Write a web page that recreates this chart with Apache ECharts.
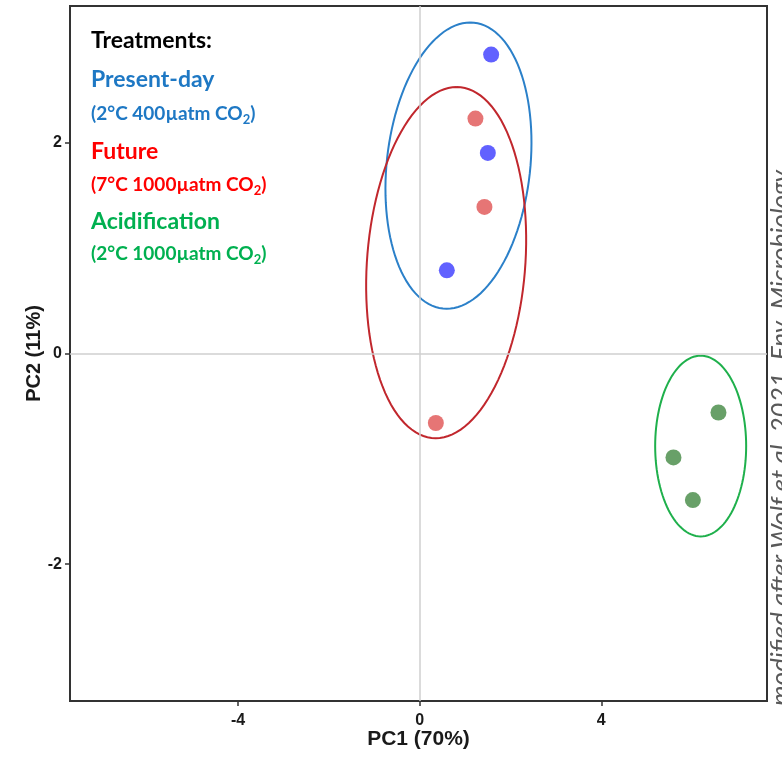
<!DOCTYPE html>
<html>
<head>
<meta charset="utf-8">
<script src="https://cdn.jsdelivr.net/npm/echarts@6/dist/echarts.min.js"></script>
<style>
  html, body { margin: 0; padding: 0; background: #fff; }
  #chart { width: 782px; height: 757px; }
</style>
</head>
<body>
<div id="chart"></div>
<script>
  // PCA scores [PC1, PC2]
  var presentDay = [[1.575, 2.839], [1.502, 1.905], [0.599, 0.790]]
  var future = [[1.229, 2.231], [1.427, 1.392], [0.357, -0.660]]
  var acidification = [[6.581, -0.560], [5.590, -0.987], [6.018, -1.392]]

  // ellipses: [centerX, centerY, aX, aY, bX, bY] (conjugate semi-axes, data units)
  var ellipsePresent = [0.855, 1.784, 0.259, 1.359, 1.587, 0]
  var ellipseFuture = [0.584, 0.863, 0.231, 1.667, 1.747, 0]
  var ellipseAcid = [6.189, -0.879, 0, 0.858, 1.002, 0]

  var xTicks = [-4, 0, 4]
  var yTicks = [-2, 0, 2]

  var chart = echarts.init(document.getElementById('chart'))

  function ellipseSeries(params, color) {
    return {
      type: 'custom',
      silent: true,
      clip: true,
      z: 3,
      data: [params],
      renderItem: function (ctx, api) {
        var p = params
        var pts = []
        for (var i = 0; i <= 120; i++) {
          var t = i / 120 * Math.PI * 2
          pts.push(api.coord([
            p[0] + p[2] * Math.cos(t) + p[4] * Math.sin(t),
            p[1] + p[3] * Math.cos(t) + p[5] * Math.sin(t)
          ]))
        }
        return {
          type: 'polyline',
          shape: { points: pts },
          style: { stroke: color, lineWidth: 2, fill: null }
        }
      }
    }
  }

  function pointSeries(name, data, color) {
    return {
      name: name,
      type: 'scatter',
      symbolSize: 16,
      z: 4,
      itemStyle: { color: color, opacity: 0.62 },
      data: data
    }
  }

  var axisFont = 'Liberation Sans, Arial, sans-serif'
  var legendFont = 'Lato, Noto Sans, sans-serif'

  // legend lines built by hand, like the annotation in the figure
  function headLine(text, color, y) {
    return {
      type: 'text', x: 91, y: y,
      style: { text: text, fill: color, font: 'bold 23px ' + legendFont, verticalAlign: 'middle' }
    }
  }
  function condLine(text, color, y) {
    return {
      type: 'text', x: 91, y: y,
      style: {
        text: text + ' CO{s|2})',
        fill: color,
        fontFamily: legendFont,
        fontWeight: 'bold',
        fontSize: 19,
        verticalAlign: 'middle',
        rich: {
          s: { fontSize: 13, fontWeight: 'bold', fontFamily: legendFont, fill: color, padding: [11, 0, 0, 0] }
        }
      }
    }
  }

  var present = pointSeries('Present-day', presentDay, '#0000ff')
  present.markLine = {
    silent: true,
    symbol: 'none',
    label: { show: false },
    lineStyle: { color: '#cfcfcf', width: 1.5, type: 'solid' },
    data: [{ xAxis: 0 }, { yAxis: 0 }]
  }

  chart.setOption({
    animation: false,
    grid: {
      left: 70,
      right: 15,
      top: 6,
      bottom: 56,
      show: true,
      borderColor: '#333',
      borderWidth: 2
    },
    xAxis: {
      type: 'value',
      min: -7.7,
      max: 7.65,
      name: 'PC1 (70%)',
      nameLocation: 'middle',
      nameGap: 28,
      nameMoveOverlap: false,
      nameTextStyle: { fontFamily: axisFont, fontWeight: 'bold', fontSize: 21, color: '#1a1a1a' },
      axisLine: { onZero: false, lineStyle: { color: '#333', width: 2 } },
      axisTick: { customValues: xTicks, length: 5, lineStyle: { color: '#333', width: 1.5 } },
      axisLabel: { customValues: xTicks, margin: 12, fontFamily: axisFont, fontWeight: 'bold', fontSize: 16, color: '#1a1a1a' },
      splitLine: { show: false }
    },
    yAxis: {
      type: 'value',
      min: -3.3,
      max: 3.3,
      name: 'PC2 (11%)',
      nameLocation: 'middle',
      nameGap: 26,
      nameMoveOverlap: false,
      nameTextStyle: { fontFamily: axisFont, fontWeight: 'bold', fontSize: 20, color: '#1a1a1a' },
      axisLine: { onZero: false, lineStyle: { color: '#333', width: 2 } },
      axisTick: { customValues: yTicks, length: 5, lineStyle: { color: '#333', width: 1.5 } },
      axisLabel: { customValues: yTicks, margin: 8, fontFamily: axisFont, fontWeight: 'bold', fontSize: 16, color: '#1a1a1a' },
      splitLine: { show: false }
    },
    graphic: [
      headLine('Treatments:', '#000', 41),
      headLine('Present-day', '#1e78c4', 80),
      condLine('(2°C 400µatm', '#1e78c4', 114),
      headLine('Future', '#ff0000', 152),
      condLine('(7°C 1000µatm', '#ff0000', 185),
      headLine('Acidification', '#00b050', 222),
      condLine('(2°C 1000µatm', '#00b050', 254),
      {
        type: 'text',
        x: 781,
        y: 438,
        rotation: Math.PI / 2,
        style: {
          text: 'modified after Wolf et al. 2021, Env. Microbiology',
          fill: '#595959',
          font: 'italic 26px ' + legendFont,
          align: 'center',
          verticalAlign: 'middle'
        }
      }
    ],
    series: [
      ellipseSeries(ellipsePresent, '#2b80c9'),
      ellipseSeries(ellipseFuture, '#c1272d'),
      ellipseSeries(ellipseAcid, '#1fb04c'),
      present,
      pointSeries('Future', future, '#d62020'),
      pointSeries('Acidification', acidification, '#0b650b')
    ]
  })
</script>
</body>
</html>
